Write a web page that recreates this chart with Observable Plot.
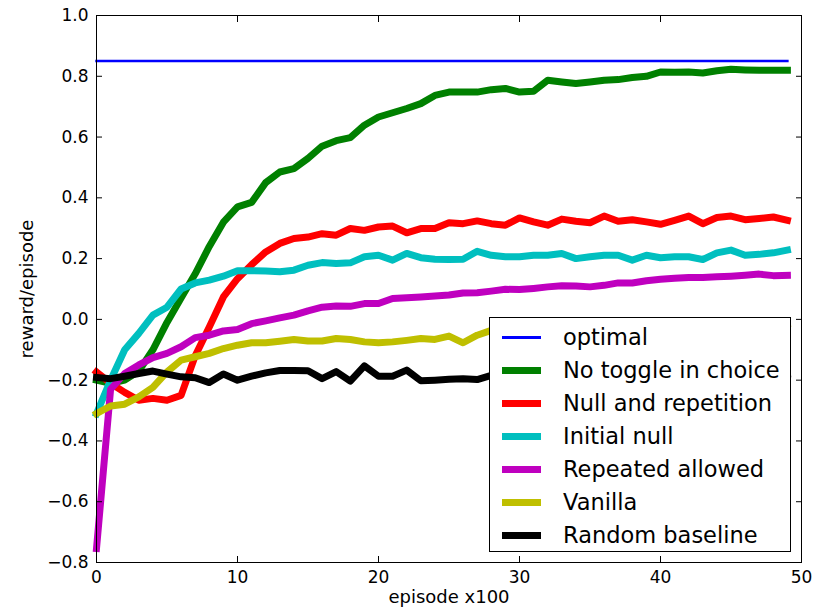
<!DOCTYPE html>
<html>
<head>
<meta charset="utf-8">
<script src="https://cdn.jsdelivr.net/npm/d3@7"></script>
<script src="https://cdn.jsdelivr.net/npm/@observablehq/plot@0.6"></script>
<style>
  html, body { margin: 0; padding: 0; background: #fff; }
  body { font-family: "DejaVu Sans", sans-serif; }
  #wrap { position: relative; width: 819px; height: 607px; }
  #legend {
    position: absolute; left: 489px; top: 317px; width: 302px; height: 235px;
    box-sizing: border-box; border: 1px solid #000; background: #fff;
    padding-top: 3px;
  }
  .row { display: flex; align-items: center; height: 33px; }
  .sw { width: 39px; margin-left: 12px; margin-right: 22px; }
  .lab { font-size: 22.5px; color: #000; white-space: nowrap; line-height: 1; }
</style>
</head>
<body>
<div id="wrap"><div id="chart"></div><div id="legend"></div></div>
<script>
// ---- data ----
const episodes = [0,1,2,3,4,5,6,7,8,9,10,11,12,13,14,15,16,17,18,19,20,21,22,23,24,25,26,27,28,29,30,31,32,33,34,35,36,37,38,39,40,41,42,43,44,45,46,47,48,49];
const optimal = 0.85;
const noToggle = [-0.20,-0.21,-0.20,-0.17,-0.10,-0.01,0.07,0.15,0.24,0.32,0.37,0.385,0.45,0.485,0.496,0.53,0.57,0.588,0.598,0.639,0.666,0.68,0.694,0.71,0.737,0.748,0.748,0.748,0.756,0.76,0.748,0.751,0.787,0.781,0.776,0.781,0.787,0.789,0.796,0.80,0.814,0.813,0.814,0.811,0.818,0.823,0.821,0.82,0.82,0.82];
const nullRep = [-0.173,-0.21,-0.24,-0.266,-0.26,-0.266,-0.25,-0.12,-0.025,0.074,0.134,0.18,0.222,0.25,0.266,0.271,0.282,0.277,0.299,0.293,0.304,0.307,0.285,0.299,0.299,0.318,0.315,0.324,0.315,0.31,0.334,0.321,0.31,0.33,0.323,0.318,0.34,0.323,0.328,0.321,0.313,0.326,0.34,0.315,0.335,0.34,0.328,0.332,0.337,0.326];
const initNull = [-0.31,-0.20,-0.10,-0.046,0.014,0.04,0.10,0.12,0.129,0.142,0.16,0.16,0.159,0.157,0.162,0.178,0.187,0.184,0.186,0.206,0.211,0.195,0.217,0.203,0.198,0.197,0.198,0.224,0.211,0.206,0.206,0.211,0.211,0.217,0.2,0.206,0.211,0.211,0.195,0.211,0.203,0.206,0.206,0.197,0.219,0.228,0.211,0.214,0.219,0.228];
const repeated = [-0.754,-0.23,-0.178,-0.15,-0.126,-0.112,-0.09,-0.06,-0.052,-0.038,-0.033,-0.014,-0.005,0.005,0.014,0.028,0.04,0.044,0.043,0.052,0.052,0.069,0.071,0.074,0.077,0.08,0.087,0.088,0.093,0.099,0.098,0.102,0.107,0.111,0.11,0.107,0.112,0.12,0.12,0.127,0.132,0.135,0.138,0.138,0.14,0.142,0.145,0.149,0.144,0.145];
const vanilla = [-0.31,-0.285,-0.279,-0.255,-0.224,-0.173,-0.134,-0.123,-0.112,-0.096,-0.085,-0.077,-0.077,-0.072,-0.066,-0.071,-0.071,-0.063,-0.066,-0.074,-0.077,-0.074,-0.069,-0.063,-0.066,-0.055,-0.077,-0.052,-0.036,-0.04,-0.035,-0.04,-0.03,-0.035,-0.03,-0.035,-0.03,-0.025,-0.03,-0.025,-0.03,-0.025,-0.02,-0.025,-0.02,-0.025,-0.02,-0.02,-0.02,-0.015];
const randomBase = [-0.191,-0.195,-0.187,-0.178,-0.17,-0.18,-0.189,-0.192,-0.208,-0.18,-0.2,-0.187,-0.176,-0.168,-0.168,-0.169,-0.195,-0.172,-0.203,-0.153,-0.187,-0.187,-0.167,-0.202,-0.2,-0.197,-0.195,-0.198,-0.184,-0.19,-0.185,-0.19,-0.18,-0.19,-0.185,-0.19,-0.18,-0.185,-0.19,-0.18,-0.185,-0.19,-0.18,-0.185,-0.18,-0.19,-0.185,-0.18,-0.185,-0.18];

const seriesNames = ["optimal","No toggle in choice","Null and repetition","Initial null","Repeated allowed","Vanilla","Random baseline"];
const seriesColors = ["#0000ff","#008000","#ff0000","#00bfbf","#bf00bf","#bfbf00","#000000"];
const xTicks = [0,10,20,30,40,50];
const yTicks = [-0.8,-0.6,-0.4,-0.2,0.0,0.2,0.4,0.6,0.8,1.0];
const xLabel = "episode x100";
const yLabel = "reward/episode";

// ---- build table ----
const curves = [noToggle, nullRep, initNull, repeated, vanilla, randomBase];
const optimalRows = episodes.map(e => ({episode: e, value: optimal, series: seriesNames[0]}));
const curveRows = curves.map((vals, k) => episodes.map((e, i) => ({episode: e, value: vals[i], series: seriesNames[k + 1]})));

const lineMarks = curveRows.map((rows, k) =>
  Plot.line(rows, {x: "episode", y: "value", stroke: seriesColors[k + 1], strokeWidth: 7,
    strokeLinejoin: "round", strokeLinecap: "square"}));

const chart = Plot.plot({
  width: 819, height: 607,
  marginLeft: 96, marginRight: 18, marginTop: 15, marginBottom: 45,
  style: {fontFamily: "DejaVu Sans", fontSize: "17px", background: "#fff", color: "#000"},
  x: {domain: [0, 50]},
  y: {domain: [-0.8, 1.0]},
  marks: [
    Plot.line(optimalRows, {x: "episode", y: "value", stroke: seriesColors[0], strokeWidth: 2.5, strokeLinecap: "square"}),
    ...lineMarks,
    Plot.frame({stroke: "#000", strokeWidth: 1}),
    Plot.axisX(xTicks, {anchor: "bottom", tickSize: -6, tickPadding: 14, fontSize: 17, label: null}),
    Plot.axisX(xTicks, {anchor: "top", tickSize: -6, tickFormat: () => "", label: null}),
    Plot.axisY(yTicks, {anchor: "left", tickSize: -6, tickPadding: 14, fontSize: 17,
      tickFormat: d3.format(".1f"), label: null}),
    Plot.axisY(yTicks, {anchor: "right", tickSize: -6, tickFormat: () => "", label: null}),
    Plot.text([xLabel], {text: d => d, frameAnchor: "bottom", textAnchor: "middle", lineAnchor: "middle",
      dy: 35, fontSize: 18, fill: "#000"}),
    Plot.text([yLabel], {text: d => d, frameAnchor: "left", textAnchor: "middle", lineAnchor: "middle",
      dx: -69, rotate: -90, fontSize: 18, fill: "#000"})
  ]
});
document.getElementById("chart").appendChild(chart);

// ---- legend (inside the axes, lower right) ----
const legend = d3.select("#legend");
seriesNames.forEach((name, k) => {
  const row = legend.append("div").attr("class", "row");
  row.append("div").attr("class", "sw")
    .style("height", k === 0 ? "2.5px" : "7px")
    .style("background", seriesColors[k]);
  row.append("div").attr("class", "lab").text(name);
});
</script>
</body>
</html>
